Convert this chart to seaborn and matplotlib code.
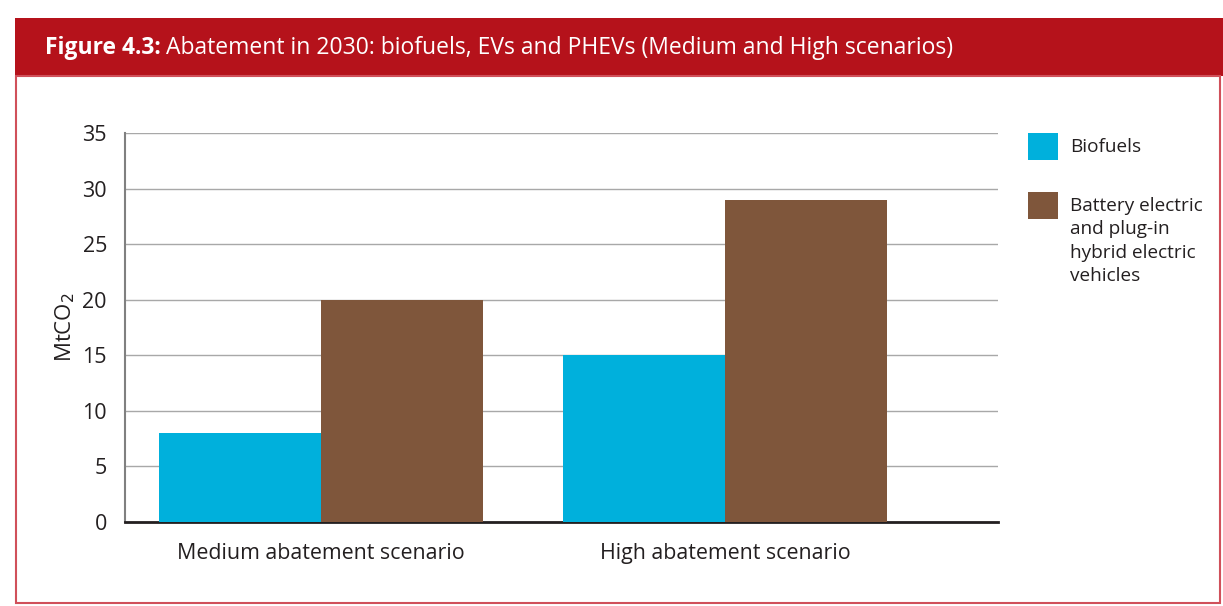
import matplotlib
matplotlib.use("Agg")
import matplotlib.pyplot as plt
from matplotlib.patches import Rectangle
import seaborn as sns
import pandas as pd

# Abatement in 2030 (MtCO2) by scenario and measure
scenarios = ["Medium abatement scenario", "High abatement scenario"]
series_names = ["Biofuels", "Battery electric and plug-in hybrid electric vehicles"]
legend_labels = ["Biofuels", "Battery electric\nand plug-in\nhybrid electric\nvehicles"]
biofuels = [8, 15]
ev_phev = [20, 29]
y_ticks = [0, 5, 10, 15, 20, 25, 30, 35]

colors = ["#00B0DC", "#7F563B"]
header_red = "#B5121B"
border_red = "#D0505A"
ink = "#231F20"

df = pd.DataFrame({
    "scenario": scenarios * 2,
    "measure": [series_names[0]] * 2 + [series_names[1]] * 2,
    "value": biofuels + ev_phev,
})

sns.set_theme(style="white")
plt.rcParams["font.family"] = ["Open Sans", "DejaVu Sans"]

W, H = 1223, 606
fig = plt.figure(figsize=(W / 100, H / 100), dpi=100)

def fx(px):
    return px / W

def fy(py):
    return 1 - py / H

# Header band and frame
fig.add_artist(Rectangle((fx(15), fy(76)), fx(1223) - fx(15), fy(18) - fy(76),
                         transform=fig.transFigure, facecolor=header_red,
                         edgecolor="none", zorder=0))
fig.add_artist(Rectangle((fx(15.5), fy(603)), fx(1220) - fx(15.5), fy(76) - fy(603),
                         transform=fig.transFigure, facecolor="none",
                         edgecolor=border_red, linewidth=1.5, zorder=0))

ax = fig.add_axes([fx(125), fy(522), fx(998) - fx(125), fy(133) - fy(522)])
sns.barplot(data=df, x="scenario", y="value", hue="measure", order=scenarios,
            hue_order=series_names, palette=colors, width=0.8, saturation=1,
            edgecolor="none", linewidth=0, legend=False, ax=ax, zorder=3)

ax.set_xlim(-0.485, 1.676)
ax.set_ylim(0, 35)
ax.set_yticks(y_ticks)
ax.set_yticklabels([str(t) for t in y_ticks], fontsize=15.5, color=ink)
ax.tick_params(axis="x", labelsize=15.4, colors=ink, length=0, pad=15)
ax.tick_params(axis="y", length=0, pad=13)
ax.set_xlabel("")
ax.set_ylabel("MtCO$_2$", fontsize=16, color=ink, labelpad=4)
ax.yaxis.grid(True, color="#A8A8A8", linewidth=1)
ax.set_axisbelow(True)
for s in ["top", "right"]:
    ax.spines[s].set_visible(False)
ax.spines["left"].set_color("#808080")
ax.spines["left"].set_linewidth(1.5)
ax.spines["bottom"].set_color(ink)
ax.spines["bottom"].set_linewidth(2)

# Legend
legend_tops = [133, 192]
for color, label, top in zip(colors, legend_labels, legend_tops):
    fig.add_artist(Rectangle((fx(1028), fy(top + 27)), fx(30), 27 / H,
                             transform=fig.transFigure, facecolor=color,
                             edgecolor="none"))
    fig.text(fx(1070), fy(top + 5), label, fontsize=13.7, color=ink,
             va="top", ha="left", linespacing=1.38)

# Title
t1 = fig.text(fx(45), fy(48), "Figure 4.3:", fontsize=16.5, fontweight="bold",
              color="white", va="center", ha="left")
fig.canvas.draw()
bb = t1.get_window_extent()
fig.text(bb.x1 / W + fx(5), fy(48), "Abatement in 2030: biofuels, EVs and PHEVs (Medium and High scenarios)",
         fontsize=16.5, color="white", va="center", ha="left")

fig.savefig("out.png", dpi=100, facecolor="white")
